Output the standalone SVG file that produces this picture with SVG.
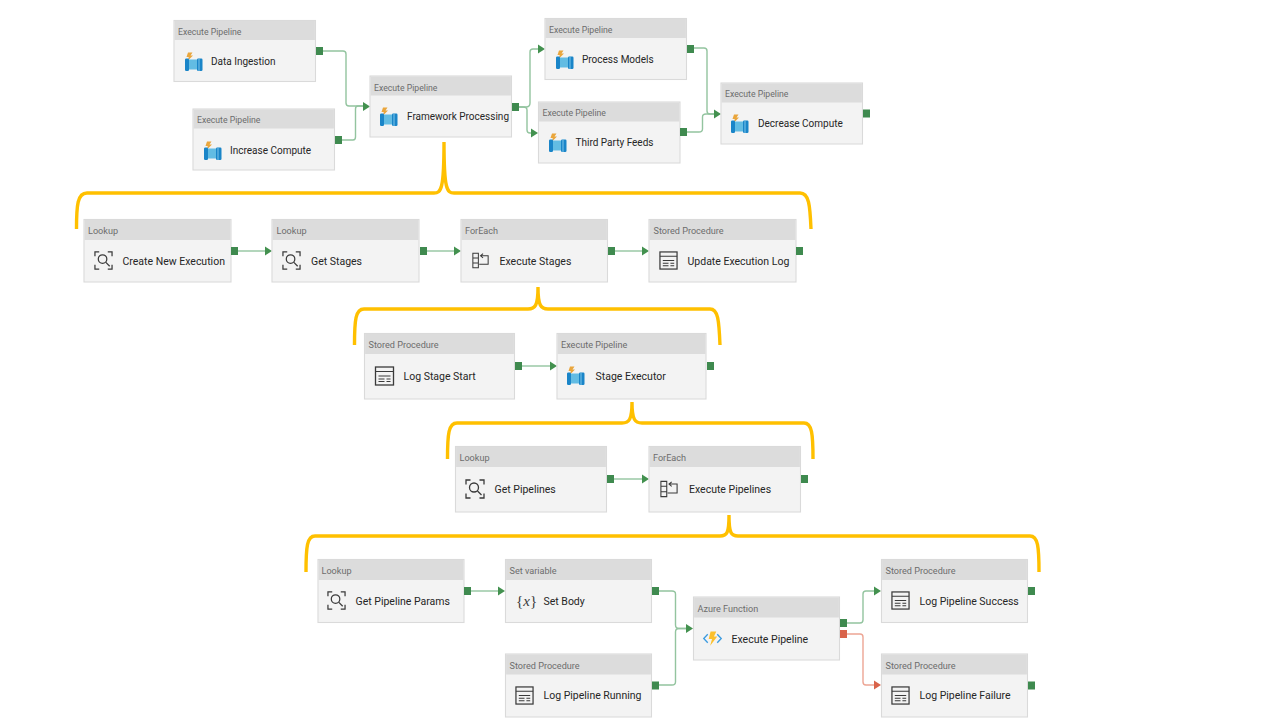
<svg xmlns="http://www.w3.org/2000/svg" width="1280" height="720" viewBox="0 0 1280 720">
<style>
.box{fill:#f3f3f3;stroke:#dadada;stroke-width:1.1}
.hd{fill:#dcdcdc}
.t{font-family:Roboto,"Open Sans",sans-serif;font-size:9.1px;fill:#6c6c6c}
.n{font-family:Roboto,"Open Sans",sans-serif;font-size:10.5px;fill:#262626}
.top .t{font-size:8.7px}
.top .n{font-size:10px}
.p{fill:#3f8a4f}
.pr{fill:#d9634a}
.c{fill:none;stroke:#93c49f;stroke-width:1.4}
.cr{fill:none;stroke:#eda594;stroke-width:1.4}
.a{fill:#43914f}
.ar{fill:#d9634a}
.b{fill:none;stroke:#ffc000;stroke-width:3.4}
.ic{fill:none;stroke:#3a3a3a;stroke-width:1.3}
</style>
<defs>
<symbol id="pipe" viewBox="0 0 20 20" overflow="visible">
<path d="M4 0.500H8.500L6.500 3.500H9L3.500 9L4.800 5H2.500Z" fill="#eaa63c"/>
<rect x="1" y="7.500" width="17" height="10" fill="#62bce3"/>
<rect x="1" y="6.500" width="4" height="12.500" rx="1.200" fill="#1a85c8"/>
<rect x="13" y="6.500" width="5.500" height="12.500" rx="1.200" fill="#1a85c8"/>
<rect x="14.500" y="6.500" width="1" height="12.500" fill="#7cc6ea"/>
</symbol>
<symbol id="look" viewBox="0 0 20 20" overflow="visible">
<path class="ic" d="M1 5.500V1H5.500M14.500 1H19V5.500M1 14.500V19H5.500M14.500 19H19V14.500"/>
<circle class="ic" cx="9" cy="8.500" r="4.500"/>
<path class="ic" d="M12.500 12L16.500 16"/>
</symbol>
<symbol id="each" viewBox="0 0 20 20" overflow="visible">
<path d="M1 1.500H7.500V18.500H1ZM1 7H7.500M1 13H7.500M10 4.500H19V14.500H8.500M13 2L10 4.500L13 7" fill="none" stroke="#3a3a3a" stroke-width="1.200"/>
</symbol>
<symbol id="proc" viewBox="0 0 20 20" overflow="visible">
<rect x="1" y="1" width="18" height="18" fill="none" stroke="#3a3a3a" stroke-width="1.300"/>
<path d="M1 5.500H19M4 10H16M4 13H10M12 13H16M4 15.500H10M12 15.500H16" fill="none" stroke="#3a3a3a" stroke-width="1.100"/>
</symbol>
<symbol id="func" viewBox="0 0 20 20" overflow="visible">
<path d="M5 5.500L0.800 10L5 14.500M15 5.500L19.200 10L15 14.500" fill="none" stroke="#3b9be0" stroke-width="1.400"/>
<path d="M8 2.500H14L11.500 8H15L7.500 17.500L9.500 10.500H6Z" fill="#fbc02d"/>
</symbol>
</defs>

<g id="connectors">
<path class="c" d="M322 51H343Q346 51 346 54V103Q346 106 349 106H364"/>
<path class="c" d="M341 140H353Q355.500 140 355.500 137V109Q355.500 106 358 106H364"/>
<path class="c" d="M518 107H526Q530 107 530 103V52Q530 49 533 49H539"/>
<path class="c" d="M518 107H523Q527 107 527 110V130Q527 133 530 133H532"/>
<path class="c" d="M693 48H704Q707 48 707 51V111Q707 114 710 114H715"/>
<path class="c" d="M687 132H699Q702.500 132 702.500 129V117Q702.500 114 706 114H715"/>
<path class="c" d="M238 251H266"/><path class="c" d="M426 251H455"/><path class="c" d="M614 251H643"/>
<path class="c" d="M521 366H551"/><path class="c" d="M613 479H643"/><path class="c" d="M471 591H499"/>
<path class="c" d="M658 591H672Q675.500 591 675.500 594V625Q675.500 628.500 679 628.500H687"/>
<path class="c" d="M658 685H672Q675.500 685 675.500 682V632Q675.500 628.500 679 628.500H687"/>
<path class="c" d="M846 623H860Q863 623 863 620V594Q863 591 866 591H875"/>
<path class="cr" d="M846 634H860Q863 634 863 637V682Q863 685 866 685H875"/>
<polygon class="a" points="363,102 370,106.500 363,111"/>
<polygon class="a" points="538,44.500 545,49 538,53.500"/>
<polygon class="a" points="531,128.500 538,133 531,137.500"/>
<polygon class="a" points="714,109.500 721,114 714,118.500"/>
<polygon class="a" points="265,246.500 272,251 265,255.500"/>
<polygon class="a" points="454,246.500 461,251 454,255.500"/>
<polygon class="a" points="642,246.500 649,251 642,255.500"/>
<polygon class="a" points="550,361.500 557,366 550,370.500"/>
<polygon class="a" points="642,474.500 649,479 642,483.500"/>
<polygon class="a" points="498,586.500 505,591 498,595.500"/>
<polygon class="a" points="686,624 693,628.500 686,633"/>
<polygon class="a" points="874,586.500 881,591 874,595.500"/>
<polygon class="ar" points="874,680.500 881,685 874,689.500"/>
</g>

<g id="brackets">
<path class="b" d="M76.500 229C76.500 205 77.500 193 87 193H434C441 193 444 190 444 142C444 190 447 193 454 193H800C809 193 810 205 811 229"/>
<path class="b" d="M354.500 345C354.500 320 355.500 309 364 309H528C535 309 538 306 538 287C538 306 541 309 548 309H710C718 309 719 320 720 345"/>
<path class="b" d="M447.500 459C447.500 434 448.500 423 457 423H622C629 423 632 420 632 402C632 420 635 423 642 423H804C812 423 813 434 813 459"/>
<path class="b" d="M306 572C306 547 307 536 315 536H720C727 536 729 533 729 515C729 533 731 536 738 536H1030C1038 536 1039 547 1039 572"/>
</g>

<g id="n-data-ingestion" class="top"><rect class="box" x="174" y="20.500" width="141.500" height="61"/><rect class="hd" x="174.600" y="21" width="140.300" height="19"/><text class="t" x="178" y="34.500">Execute Pipeline</text><use href="#pipe" x="184" y="52" width="20" height="20"/><text class="n" x="211" y="64.500">Data Ingestion</text><rect class="p" x="316" y="47" width="7" height="8"/></g>
<g id="n-increase-compute" class="top"><rect class="box" x="193" y="109" width="141.500" height="61"/><rect class="hd" x="193.600" y="109.500" width="140.300" height="19"/><text class="t" x="197" y="123">Execute Pipeline</text><use href="#pipe" x="203" y="141" width="20" height="20"/><text class="n" x="230" y="153.500">Increase Compute</text><rect class="p" x="335" y="136" width="7" height="8"/></g>
<g id="n-framework-processing" class="top"><rect class="box" x="370" y="76" width="141.500" height="61"/><rect class="hd" x="370.600" y="76.500" width="140.300" height="19"/><text class="t" x="374" y="90.500">Execute Pipeline</text><use href="#pipe" x="379" y="107" width="20" height="20"/><text class="n" x="407" y="120">Framework Processing</text><rect class="p" x="512" y="103" width="7" height="8"/></g>
<g id="n-process-models" class="top"><rect class="box" x="545" y="18.500" width="141.500" height="61"/><rect class="hd" x="545.600" y="19" width="140.300" height="19"/><text class="t" x="549" y="32.500">Execute Pipeline</text><use href="#pipe" x="555" y="50" width="20" height="20"/><text class="n" x="582" y="62.500">Process Models</text><rect class="p" x="687" y="45" width="7" height="8"/></g>
<g id="n-third-party-feeds" class="top"><rect class="box" x="538.500" y="102" width="141.500" height="61"/><rect class="hd" x="539.100" y="102.500" width="140.300" height="19"/><text class="t" x="542.500" y="116">Execute Pipeline</text><use href="#pipe" x="548" y="133" width="20" height="20"/><text class="n" x="575.500" y="146">Third Party Feeds</text><rect class="p" x="680" y="128" width="7" height="8"/></g>
<g id="n-decrease-compute" class="top"><rect class="box" x="721" y="83" width="141.500" height="61"/><rect class="hd" x="721.600" y="83.500" width="140.300" height="19"/><text class="t" x="725" y="97">Execute Pipeline</text><use href="#pipe" x="730" y="114" width="20" height="20"/><text class="n" x="758" y="127">Decrease Compute</text><rect class="p" x="863" y="109.500" width="7" height="8"/></g>

<g id="n-create-new-execution"><rect class="box" x="84" y="219.500" width="147" height="62.500"/><rect class="hd" x="84.600" y="220" width="145.800" height="20"/><text class="t" x="88" y="234">Lookup</text><use href="#look" x="94" y="251" width="19" height="19"/><text class="n" x="122.500" y="264.500">Create New Execution</text><rect class="p" x="231" y="247" width="7" height="8"/></g>
<g id="n-get-stages"><rect class="box" x="272" y="219.500" width="147" height="62.500"/><rect class="hd" x="272.600" y="220" width="145.800" height="20"/><text class="t" x="276.500" y="234">Lookup</text><use href="#look" x="282" y="251" width="19" height="19"/><text class="n" x="311" y="264.500">Get Stages</text><rect class="p" x="420" y="247" width="7" height="8"/></g>
<g id="n-execute-stages"><rect class="box" x="461" y="219.500" width="146.500" height="62.500"/><rect class="hd" x="461.600" y="220" width="145.300" height="20"/><text class="t" x="465" y="234">ForEach</text><use href="#each" x="472" y="252" width="17" height="17"/><text class="n" x="499.500" y="264.500">Execute Stages</text><rect class="p" x="608" y="247" width="7" height="8"/></g>
<g id="n-update-execution-log"><rect class="box" x="649" y="219.500" width="147" height="62.500"/><rect class="hd" x="649.600" y="220" width="145.800" height="20"/><text class="t" x="653.500" y="234">Stored Procedure</text><use href="#proc" x="659" y="251" width="19" height="19"/><text class="n" x="687.500" y="264.500">Update Execution Log</text><rect class="p" x="796" y="247" width="7" height="8"/></g>

<g id="n-log-stage-start"><rect class="box" x="364.500" y="333.500" width="150" height="65.500"/><rect class="hd" x="365.100" y="334" width="148.800" height="20"/><text class="t" x="368.500" y="348">Stored Procedure</text><use href="#proc" x="374.500" y="366" width="20" height="20"/><text class="n" x="403.500" y="380">Log Stage Start</text><rect class="p" x="515" y="362" width="7" height="8"/></g>
<g id="n-stage-executor"><rect class="box" x="557" y="333.500" width="149" height="65.500"/><rect class="hd" x="557.600" y="334" width="147.800" height="20"/><text class="t" x="561" y="348">Execute Pipeline</text><use href="#pipe" x="566" y="366" width="20" height="20"/><text class="n" x="595.500" y="380">Stage Executor</text><rect class="p" x="707" y="362" width="7" height="8"/></g>

<g id="n-get-pipelines"><rect class="box" x="455.500" y="446.500" width="151" height="65.500"/><rect class="hd" x="456.100" y="447" width="149.800" height="20"/><text class="t" x="459.500" y="461">Lookup</text><use href="#look" x="465" y="479" width="20" height="20"/><text class="n" x="494.500" y="492.500">Get Pipelines</text><rect class="p" x="607" y="475" width="7" height="8"/></g>
<g id="n-execute-pipelines"><rect class="box" x="649" y="446.500" width="151.500" height="65.500"/><rect class="hd" x="649.600" y="447" width="150.300" height="20"/><text class="t" x="653" y="461">ForEach</text><use href="#each" x="660" y="480" width="18" height="18"/><text class="n" x="689" y="492.500">Execute Pipelines</text><rect class="p" x="801" y="475" width="7" height="8"/></g>

<g id="n-get-pipeline-params"><rect class="box" x="318" y="559.500" width="146" height="63"/><rect class="hd" x="318.600" y="560" width="144.800" height="20"/><text class="t" x="321.500" y="574">Lookup</text><use href="#look" x="327" y="591" width="19" height="19"/><text class="n" x="355.500" y="604.500">Get Pipeline Params</text><rect class="p" x="464" y="587" width="7" height="8"/></g>
<g id="n-set-body"><rect class="box" x="505.500" y="559.500" width="146" height="63"/><rect class="hd" x="506.100" y="560" width="144.800" height="20"/><text class="t" x="509.500" y="574">Set variable</text><text x="516" y="606" font-family="'Liberation Serif',serif" font-size="15" fill="#3a3a3a">{<tspan font-style="italic">x</tspan>}</text><text class="n" x="543.500" y="604.500">Set Body</text><rect class="p" x="652" y="587" width="7" height="8"/></g>
<g id="n-log-pipeline-running"><rect class="box" x="505.500" y="654" width="146" height="63"/><rect class="hd" x="506.100" y="654.500" width="144.800" height="20"/><text class="t" x="509.500" y="668.500">Stored Procedure</text><use href="#proc" x="515" y="686" width="19" height="19"/><text class="n" x="543.500" y="699">Log Pipeline Running</text><rect class="p" x="652" y="681.500" width="7" height="8"/></g>
<g id="n-execute-pipeline"><rect class="box" x="693.500" y="597" width="146" height="63"/><rect class="hd" x="694.100" y="597.500" width="144.800" height="20"/><text class="t" x="697.500" y="611.500">Azure Function</text><use href="#func" x="703" y="629" width="19" height="19"/><text class="n" x="731.500" y="642.500">Execute Pipeline</text><rect class="p" x="840" y="619" width="7" height="8"/><rect class="pr" x="840" y="630" width="7" height="8"/></g>
<g id="n-log-pipeline-success"><rect class="box" x="881.500" y="559.500" width="146" height="63"/><rect class="hd" x="882.100" y="560" width="144.800" height="20"/><text class="t" x="885.500" y="574">Stored Procedure</text><use href="#proc" x="891" y="591" width="19" height="19"/><text class="n" x="919.500" y="604.500">Log Pipeline Success</text><rect class="p" x="1028" y="587" width="7" height="8"/></g>
<g id="n-log-pipeline-failure"><rect class="box" x="881.500" y="654" width="146" height="63"/><rect class="hd" x="882.100" y="654.500" width="144.800" height="20"/><text class="t" x="885.500" y="668.500">Stored Procedure</text><use href="#proc" x="891" y="686" width="19" height="19"/><text class="n" x="919.500" y="699">Log Pipeline Failure</text><rect class="p" x="1028" y="681.500" width="7" height="8"/></g>
</svg>
